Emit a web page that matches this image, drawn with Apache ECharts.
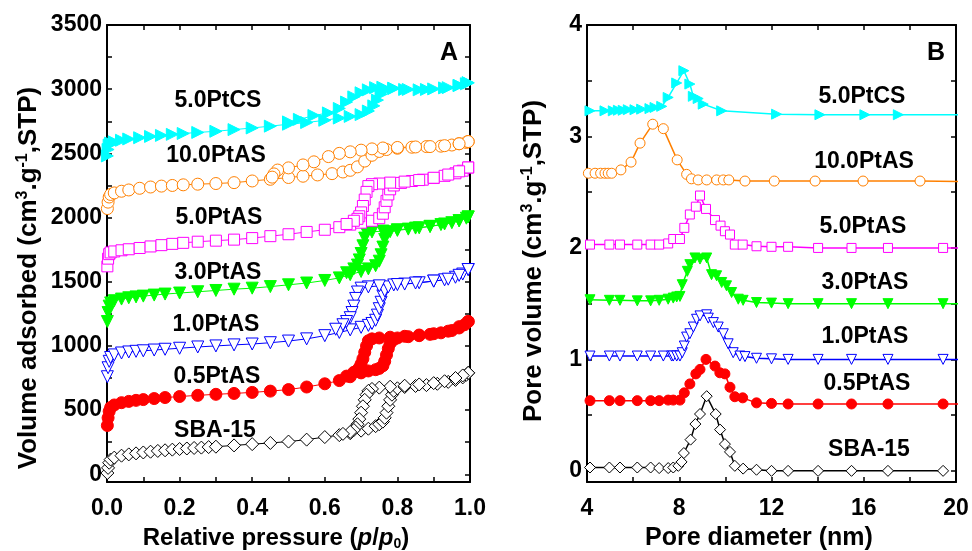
<!DOCTYPE html>
<html>
<head>
<meta charset="utf-8">
<script src="https://cdn.jsdelivr.net/npm/echarts@6/dist/echarts.min.js"></script>
<style>html,body{margin:0;padding:0;background:#fff}#c{width:972px;height:551px}</style>
</head>
<body>
<div id="c"></div>
<script>
// ---------- Panel A: N2 isotherms, [p/p0, volume] (plotted with vertical offsets) ----------
const sba15Ads = [[0.001,10],[0.003,50],[0.006,90],[0.01,115],[0.02,130],[0.04,145],[0.06,155],[0.08,163],[0.1,170],[0.12,176],[0.14,182],[0.16,187],[0.18,192],[0.2,197],[0.22,201],[0.24,205],[0.26,208],[0.28,212],[0.3,215],[0.35,225],[0.4,235],[0.45,244],[0.5,255],[0.55,270],[0.6,290],[0.64,305],[0.67,320],[0.7,340],[0.72,355],[0.74,375],[0.75,390],[0.76,410],[0.765,440],[0.77,480],[0.775,530],[0.78,580],[0.785,620],[0.79,650],[0.8,670],[0.82,680],[0.85,688],[0.88,695],[0.91,705],[0.94,720],[0.96,735],[0.98,755],[0.99,775],[0.995,790]];
const sba15Des = [[0.995,790],[0.98,770],[0.96,750],[0.93,725],[0.9,710],[0.86,700],[0.82,690],[0.78,682],[0.75,675],[0.73,665],[0.72,650],[0.715,620],[0.71,580],[0.705,530],[0.7,480],[0.695,430],[0.69,390],[0.685,365],[0.68,345],[0.67,330],[0.65,315]];
const pt05Ads = [[0.001,380],[0.003,440],[0.006,490],[0.01,520],[0.02,540],[0.04,558],[0.06,568],[0.08,576],[0.1,582],[0.13,590],[0.16,598],[0.2,606],[0.25,615],[0.3,623],[0.35,630],[0.4,638],[0.45,648],[0.5,660],[0.55,680],[0.6,705],[0.64,730],[0.67,760],[0.7,790],[0.72,805],[0.74,815],[0.75,825],[0.76,845],[0.765,880],[0.77,930],[0.775,980],[0.78,1020],[0.79,1050],[0.8,1062],[0.83,1072],[0.86,1080],[0.89,1090],[0.92,1102],[0.95,1120],[0.97,1140],[0.985,1165],[0.995,1190]];
const pt05Des = [[0.995,1190],[0.97,1150],[0.94,1115],[0.9,1095],[0.86,1085],[0.82,1075],[0.78,1068],[0.75,1062],[0.73,1055],[0.72,1040],[0.715,1000],[0.71,950],[0.705,900],[0.7,860],[0.695,830],[0.69,810],[0.68,795],[0.66,765]];
const pt10Ads = [[0.001,760],[0.003,830],[0.006,880],[0.01,910],[0.02,930],[0.04,945],[0.06,953],[0.08,958],[0.1,962],[0.13,968],[0.16,974],[0.2,982],[0.25,992],[0.3,1000],[0.35,1008],[0.4,1015],[0.45,1025],[0.5,1038],[0.55,1055],[0.6,1080],[0.64,1105],[0.67,1125],[0.7,1145],[0.72,1160],[0.73,1175],[0.74,1200],[0.745,1240],[0.75,1290],[0.755,1340],[0.76,1390],[0.765,1430],[0.775,1460],[0.79,1475],[0.82,1482],[0.86,1492],[0.9,1505],[0.93,1515],[0.96,1535],[0.98,1560],[0.995,1595]];
const pt10Des = [[0.995,1595],[0.97,1550],[0.94,1520],[0.9,1505],[0.85,1490],[0.8,1478],[0.75,1468],[0.72,1460],[0.7,1450],[0.69,1420],[0.685,1370],[0.68,1310],[0.675,1260],[0.67,1220],[0.66,1190],[0.65,1165],[0.63,1130]];
const pt30Ads = [[0.001,1190],[0.003,1260],[0.006,1310],[0.01,1335],[0.02,1352],[0.04,1365],[0.06,1375],[0.08,1382],[0.1,1388],[0.13,1396],[0.16,1404],[0.2,1412],[0.25,1422],[0.3,1432],[0.35,1442],[0.4,1450],[0.45,1462],[0.5,1476],[0.55,1490],[0.6,1510],[0.64,1530],[0.67,1555],[0.7,1580],[0.72,1600],[0.74,1625],[0.75,1660],[0.755,1710],[0.76,1770],[0.765,1830],[0.77,1870],[0.78,1890],[0.8,1900],[0.83,1910],[0.86,1920],[0.89,1930],[0.92,1945],[0.95,1960],[0.97,1975],[0.99,1995],[0.995,2005]];
const pt30Des = [[0.995,2005],[0.97,1975],[0.93,1950],[0.89,1932],[0.85,1918],[0.8,1905],[0.76,1895],[0.73,1888],[0.715,1880],[0.71,1840],[0.705,1780],[0.7,1720],[0.695,1670],[0.69,1630],[0.68,1600],[0.66,1570]];
const pt50Ads = [[0.001,1620],[0.003,1680],[0.006,1715],[0.01,1728],[0.02,1736],[0.04,1745],[0.06,1753],[0.09,1763],[0.12,1775],[0.15,1785],[0.18,1795],[0.21,1803],[0.25,1812],[0.3,1820],[0.35,1828],[0.4,1840],[0.45,1855],[0.5,1870],[0.55,1888],[0.6,1905],[0.64,1925],[0.67,1945],[0.7,1960],[0.73,1975],[0.75,1995],[0.76,2030],[0.765,2080],[0.77,2130],[0.775,2180],[0.78,2220],[0.79,2250],[0.81,2270],[0.84,2285],[0.87,2295],[0.9,2308],[0.93,2325],[0.96,2345],[0.98,2365],[0.995,2390]];
const pt50Des = [[0.995,2390],[0.97,2360],[0.94,2335],[0.9,2310],[0.86,2292],[0.82,2280],[0.78,2272],[0.75,2265],[0.73,2260],[0.72,2245],[0.715,2200],[0.71,2140],[0.705,2090],[0.7,2040],[0.695,2010],[0.69,1990],[0.68,1975],[0.66,1950]];
const pt100Ads = [[0.001,2070],[0.003,2120],[0.006,2160],[0.01,2180],[0.02,2192],[0.04,2205],[0.06,2215],[0.09,2228],[0.12,2238],[0.15,2245],[0.18,2250],[0.21,2255],[0.25,2260],[0.3,2265],[0.35,2272],[0.4,2285],[0.45,2298],[0.5,2312],[0.54,2322],[0.58,2332],[0.62,2342],[0.65,2355],[0.67,2368],[0.69,2395],[0.71,2440],[0.73,2485],[0.75,2515],[0.77,2530],[0.8,2540],[0.84,2548],[0.88,2553],[0.92,2556],[0.95,2565],[0.97,2575],[0.99,2585],[0.995,2592]];
const pt100Des = [[0.995,2592],[0.97,2575],[0.93,2560],[0.89,2553],[0.85,2550],[0.8,2546],[0.76,2542],[0.73,2535],[0.7,2525],[0.67,2512],[0.64,2500],[0.61,2475],[0.57,2434],[0.54,2410],[0.5,2387],[0.47,2370],[0.46,2340],[0.455,2315]];
const ptcsAds = [[0.001,2480],[0.003,2530],[0.006,2565],[0.01,2580],[0.02,2590],[0.04,2602],[0.06,2612],[0.09,2622],[0.12,2632],[0.15,2640],[0.18,2648],[0.21,2655],[0.25,2663],[0.3,2672],[0.35,2685],[0.4,2698],[0.45,2712],[0.5,2727],[0.55,2740],[0.6,2758],[0.64,2775],[0.67,2788],[0.7,2802],[0.72,2830],[0.735,2870],[0.745,2915],[0.755,2960],[0.77,2995],[0.79,3008],[0.82,2998],[0.86,2995],[0.9,3002],[0.94,3012],[0.97,3028],[0.99,3042],[0.995,3050]];
const ptcsDes = [[0.995,3050],[0.97,3030],[0.93,3010],[0.88,2998],[0.83,2998],[0.79,3005],[0.76,3015],[0.74,3012],[0.72,2995],[0.7,2972],[0.68,2940],[0.66,2900],[0.64,2850],[0.61,2815],[0.57,2795],[0.53,2765],[0.5,2745]];

// ---------- Panel B: pore size distributions, [diameter nm, pore volume] ----------
const bSBA15 = [[4.13,0.03],[4.97,0.03],[5.43,0.03],[6.18,0.03],[6.76,0.03],[7.13,0.025],[7.52,0.025],[7.74,0.03],[7.96,0.045],[8.1,0.08],[8.2,0.16],[8.49,0.28],[8.7,0.42],[8.9,0.51],[9.19,0.67],[9.58,0.51],[9.77,0.37],[9.98,0.24],[10.2,0.17],[10.41,0.045],[10.77,0.02],[11.35,0.01],[12.0,0.0],[12.72,0.0],[14.02,0.0],[15.47,0.0],[17.05,0.0],[19.44,0.0]];
const bPt05 = [[4.13,0.63],[4.97,0.63],[5.43,0.63],[6.18,0.63],[6.76,0.63],[7.13,0.63],[7.52,0.635],[7.74,0.635],[8.03,0.635],[8.22,0.7],[8.46,0.78],[8.72,0.87],[8.9,0.91],[9.16,1.0],[9.55,0.94],[9.76,0.88],[9.98,0.87],[10.2,0.75],[10.41,0.665],[10.75,0.655],[11.35,0.61],[12.0,0.605],[12.72,0.6],[14.02,0.6],[15.47,0.6],[17.05,0.6],[19.44,0.6],[21,0.6]];
const bPt10 = [[4.13,1.03],[4.97,1.03],[5.43,1.03],[6.18,1.03],[6.76,1.03],[7.31,1.03],[7.67,1.03],[7.74,1.03],[7.89,1.03],[8.03,1.03],[8.13,1.06],[8.22,1.12],[8.32,1.2],[8.46,1.23],[8.61,1.29],[8.75,1.36],[8.9,1.39],[9.19,1.4],[9.26,1.37],[9.48,1.33],[9.69,1.29],[9.91,1.23],[10.12,1.14],[10.34,1.06],[10.63,1.03],[10.85,1.025],[11.35,1.01],[12.0,1.005],[12.72,1.0],[14.02,1.0],[15.47,1.0],[17.05,1.0],[19.44,1.0],[21,1.0]];
const bPt30 = [[4.13,1.535],[4.97,1.53],[5.43,1.53],[6.18,1.525],[6.76,1.525],[7.13,1.53],[7.52,1.54],[7.74,1.55],[7.89,1.56],[8.03,1.565],[8.13,1.67],[8.35,1.79],[8.46,1.85],[8.68,1.91],[8.9,1.9],[9.19,1.91],[9.4,1.76],[9.62,1.75],[9.84,1.69],[10.05,1.66],[10.27,1.6],[10.56,1.54],[10.77,1.53],[11.35,1.51],[12.0,1.505],[12.72,1.5],[14.02,1.5],[15.47,1.5],[17.05,1.5],[19.44,1.5],[21,1.5]];
const bPt50 = [[4.13,2.03],[4.97,2.03],[5.43,2.03],[6.18,2.03],[6.76,2.03],[7.13,2.03],[7.52,2.04],[7.74,2.08],[8.03,2.08],[8.22,2.18],[8.46,2.3],[8.72,2.37],[8.9,2.47],[9.16,2.35],[9.55,2.25],[9.79,2.2],[9.98,2.15],[10.2,2.12],[10.41,2.03],[10.75,2.03],[11.35,2.015],[12.0,2.01],[12.72,2.01],[14.02,2.0],[15.47,2.0],[17.05,2.0],[19.44,2.0],[21,2.0]];
const bPt100 = [[4.06,2.67],[4.35,2.67],[4.59,2.67],[4.78,2.67],[4.92,2.67],[5.07,2.67],[5.47,2.7],[5.91,2.77],[6.3,2.94],[6.85,3.11],[7.31,3.07],[7.91,2.79],[8.32,2.66],[8.53,2.62],[8.82,2.61],[9.19,2.61],[9.62,2.61],[9.91,2.61],[10.15,2.61],[10.85,2.6],[12.12,2.6],[13.89,2.6],[15.97,2.6],[18.44,2.6],[21,2.595]];
const bPtCS = [[4.13,3.23],[4.78,3.23],[5.14,3.23],[5.36,3.235],[5.57,3.235],[5.79,3.24],[6.08,3.24],[6.37,3.245],[6.73,3.25],[6.95,3.26],[7.24,3.27],[7.52,3.35],[7.89,3.48],[8.2,3.59],[8.46,3.47],[8.61,3.36],[8.82,3.34],[9.04,3.29],[9.84,3.23],[12.22,3.2],[14.1,3.195],[16.05,3.195],[17.5,3.195],[21,3.195]];

// ---------- Names, colours, ticks ----------
const sampleNames = ['SBA-15','0.5PtAS','1.0PtAS','3.0PtAS','5.0PtAS','10.0PtAS','5.0PtCS'];
const sampleColors = ['#000000','#ff0000','#0000ff','#00ff00','#ff00ff','#ff8000','#00ffff'];
const aXLabels = [0,0.2,0.4,0.6,0.8,1.0];
const aXTicks = [0,0.1,0.2,0.3,0.4,0.5,0.6,0.7,0.8,0.9,1.0];
const aYLabels = [0,500,1000,1500,2000,2500,3000,3500];
const aYTicks = [0,250,500,750,1000,1250,1500,1750,2000,2250,2500,2750,3000,3250,3500];
const bXLabels = [4,8,12,16,20];
const bXTicks = [4,6,8,10,12,14,16,18,20];
const bYLabels = [0,1,2,3,4];
const bYTicks = [0,0.5,1,1.5,2,2.5,3,3.5,4];

const FONT = '"Liberation Sans", Arial, sans-serif';

// marker styles per sample: [symbol, rotate, filled]
const markerStyle = [
  ['diamond',0,false],
  ['circle',0,true],
  ['triangle',180,false],
  ['triangle',180,true],
  ['rect',0,false],
  ['circle',0,false],
  ['triangle',-90,true]
];

function axisCommon(showLabels, labelVals, tickVals, fmt) {
  return {
    axisLine: {show: true, onZero: false, lineStyle: {color: '#000', width: 2}},
    axisTick: {show: true, inside: true, length: 5, customValues: tickVals, lineStyle: {color: '#000', width: 1.5}},
    axisLabel: {show: showLabels, customValues: labelVals, formatter: fmt, color: '#000',
      fontFamily: FONT, fontWeight: 'bold', fontSize: 23, margin: 5},
    splitLine: {show: false},
    minorTick: {show: false}
  };
}

const fmt1 = v => Number(v).toFixed(1);
const fmt0 = v => String(Math.round(v));

const xAxes = [
  Object.assign({type:'value', gridIndex:0, min:0, max:1, position:'bottom'}, axisCommon(true, aXLabels, aXTicks, fmt1)),
  Object.assign({type:'value', gridIndex:0, min:0, max:1, position:'top'}, axisCommon(false, aXLabels, aXTicks, fmt1)),
  Object.assign({type:'value', gridIndex:1, min:4, max:20, position:'bottom'}, axisCommon(true, bXLabels, bXTicks, fmt0)),
  Object.assign({type:'value', gridIndex:1, min:4, max:20, position:'top'}, axisCommon(false, bXLabels, bXTicks, fmt0))
];
xAxes[0].axisLabel.margin = 15;
xAxes[2].axisLabel.margin = 15;
const yAxes = [
  Object.assign({type:'value', gridIndex:0, min:-60, max:3500, position:'left'}, axisCommon(true, aYLabels, aYTicks, fmt0)),
  Object.assign({type:'value', gridIndex:0, min:-60, max:3500, position:'right'}, axisCommon(false, aYLabels, aYTicks, fmt0)),
  Object.assign({type:'value', gridIndex:1, min:-0.1, max:4, position:'left'}, axisCommon(true, bYLabels, bYTicks, fmt0)),
  Object.assign({type:'value', gridIndex:1, min:-0.1, max:4, position:'right'}, axisCommon(false, bYLabels, bYTicks, fmt0))
];

function makeSeries(data, idx, xi, yi, size, lw) {
  const c = sampleColors[idx];
  const m = markerStyle[idx];
  return {
    type: 'line', xAxisIndex: xi, yAxisIndex: yi, data: data,
    symbol: m[0], symbolRotate: m[1],
    symbolSize: m[0] === 'rect' ? size - 1 : (m[0]==='diamond' ? size + 1 : size),
    showSymbol: true, showAllSymbol: true, clip: true,
    lineStyle: {color: c, width: lw},
    itemStyle: {color: m[2] ? c : '#ffffff', borderColor: c, borderWidth: 1},
    emphasis: {disabled: true}, silent: true, animation: false, z: 2 + idx
  };
}

const isoA = [[sba15Ads,sba15Des],[pt05Ads,pt05Des],[pt10Ads,pt10Des],[pt30Ads,pt30Des],[pt50Ads,pt50Des],[pt100Ads,pt100Des],[ptcsAds,ptcsDes]];
const psdB = [bSBA15,bPt05,bPt10,bPt30,bPt50,bPt100,bPtCS];

const series = [];
isoA.forEach((pair, i) => {
  series.push(makeSeries(pair[0], i, 0, 0, 12, 1));
  series.push(makeSeries(pair[1], i, 0, 0, 12, 1));
});
psdB.forEach((d, i) => series.push(makeSeries(d, i, 2, 2, 10, 1.5)));

// label anchor positions (layout)
const labelPosA = [[215,431],[217,377],[216,325],[218,273],[219,218],[216,156],[218,101]];
const labelPosB = [[869,450],[867,384],[865,337],[865,283],[863,227],[864,162],[862,97]];

const graphics = [];
sampleNames.forEach((n, i) => {
  [labelPosA[i], labelPosB[i]].forEach(p => graphics.push({
    type:'text', x:p[0], y:p[1], silent:true,
    style:{text:n, fill:'#000', font:'bold 23px ' + FONT, align:'center', verticalAlign:'middle', textAlign:'center', textVerticalAlign:'middle'}
  }));
});
graphics.push({type:'text', x:449, y:53, silent:true, style:{text:'A', fill:'#000', font:'bold 25px ' + FONT, align:'center', verticalAlign:'middle', textAlign:'center', textVerticalAlign:'middle'}});
graphics.push({type:'text', x:936, y:53, silent:true, style:{text:'B', fill:'#000', font:'bold 25px ' + FONT, align:'center', verticalAlign:'middle', textAlign:'center', textVerticalAlign:'middle'}});

function richFor(fs) {
  const sup = Math.round(fs * 0.6);
  return {
    n: {fill:'#000', fontSize:fs, fontWeight:'bold', fontFamily:FONT},
    i: {fill:'#000', fontSize:fs, fontWeight:'bold', fontStyle:'italic', fontFamily:FONT},
    sup: {fill:'#000', fontSize:sup, fontWeight:'bold', fontFamily:FONT, verticalAlign:'top', padding:[0,0,Math.round(fs*0.45),0]},
    sub: {fill:'#000', fontSize:sup, fontWeight:'bold', fontFamily:FONT, verticalAlign:'bottom', padding:[Math.round(fs*0.55),0,0,0]}
  };
}
function titleText(x, y, text, rot, fs) {
  return {type:'text', x:x, y:y, rotation: rot, silent:true,
    style:{text:text, rich:richFor(fs), font:'bold ' + fs + 'px ' + FONT, fill:'#000', align:'center', verticalAlign:'middle', textAlign:'center', textVerticalAlign:'middle'}};
}
graphics.push(titleText(276, 538, '{n|Relative pressure (}{i|p}{n|/}{i|p}{sub|0}{n|)}', 0, 24));
graphics.push(titleText(759, 538, '{n|Pore diameter (nm)}', 0, 25));
graphics.push(titleText(29, 278, '{n|Volume adsorbed (cm}{sup|3}{n|.g}{sup|-1}{n|,STP)}', Math.PI/2, 26));
graphics.push(titleText(534, 261, '{n|Pore volume (cm}{sup|3}{n|.g}{sup|-1}{n|,STP)}', Math.PI/2, 26));

const chart = echarts.init(document.getElementById('c'), null, {renderer:'canvas'});
chart.setOption({
  animation: false,
  backgroundColor: '#ffffff',
  grid: [
    {left:107, top:25, width:363, height:457},
    {left:587, top:25, width:369, height:457}
  ],
  xAxis: xAxes,
  yAxis: yAxes,
  series: series,
  graphic: graphics
});
</script>
</body>
</html>
